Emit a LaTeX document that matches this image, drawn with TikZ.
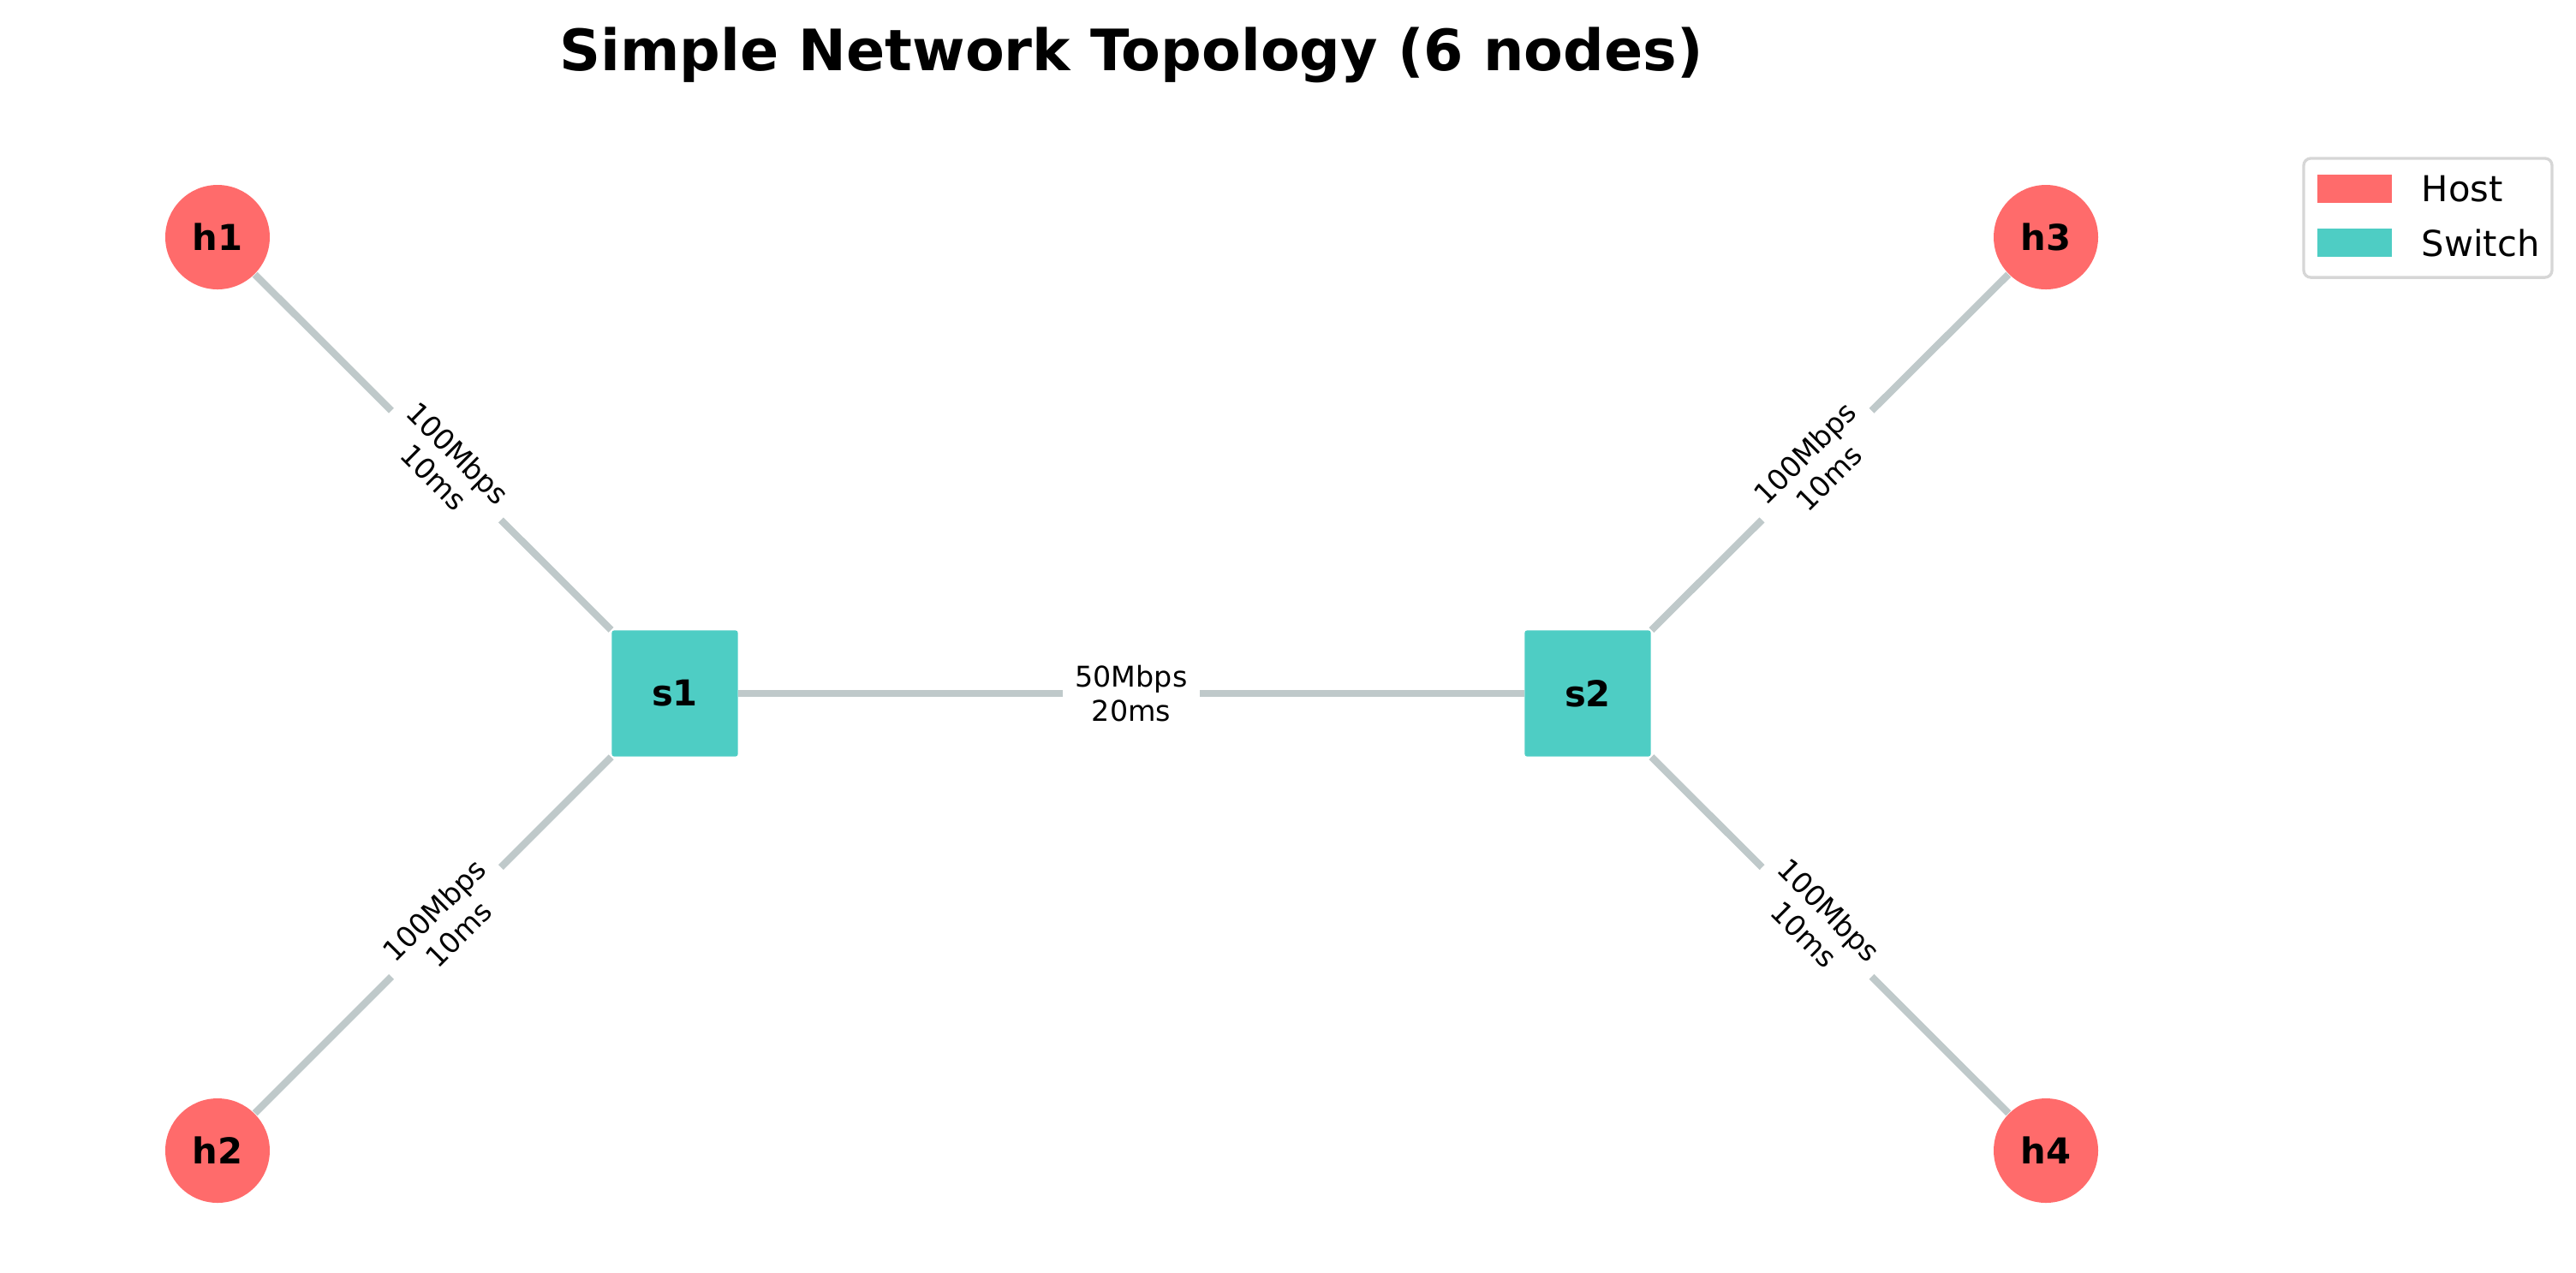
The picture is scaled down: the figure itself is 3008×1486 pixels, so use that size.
\documentclass[tikz,border=0pt]{standalone}
\usepackage{fontspec}
\setmainfont{DejaVu Sans}
\definecolor{hostc}{HTML}{FF6B6B}
\definecolor{switchc}{HTML}{4ECDC4}
\definecolor{edgec}{HTML}{BFC9CA}
\definecolor{legc}{HTML}{D6D6D6}
\begin{document}
\begin{tikzpicture}[x=0.24pt,y=-0.24pt,
  host/.style={circle, fill=hostc, minimum size=29.28pt, inner sep=0pt, font=\fontsize{10}{12}\selectfont\bfseries},
  switch/.style={rectangle, fill=switchc, minimum size=35.3pt, inner sep=0pt, rounded corners=0.6pt, font=\fontsize{10}{12}\selectfont\bfseries},
  link/.style={draw=edgec, line width=2pt},
  elabel/.style={fill=white, font=\fontsize{8}{9.6}\selectfont, align=center, inner xsep=3.4pt, inner ysep=1pt},
  legbox/.style={draw=legc, line width=0.8pt, fill=white, rounded corners=2pt, minimum width=69.6pt, minimum height=33.4pt, inner sep=0pt},
  legpatch/.style={minimum width=20.9pt, minimum height=7.9pt, inner sep=0pt},
  legtext/.style={anchor=west, inner sep=0pt, font=\fontsize{10}{12}\selectfont}]
\useasboundingbox (0,0) rectangle (3008,1486);
% title
\node[font=\fontsize{16}{19}\selectfont\bfseries, anchor=base] (title) at (1321,82) {Simple Network Topology (6 nodes)};
% nodes
\node[host] (h1) at (254,277) {h1};
\node[host] (h2) at (254,1344) {h2};
\node[host] (h3) at (2389,277) {h3};
\node[host] (h4) at (2389,1344) {h4};
\node[switch] (s1) at (788,810) {s1};
\node[switch] (s2) at (1854,810) {s2};
% edges
\draw[link] (h1) -- (s1);
\draw[link] (h2) -- (s1);
\draw[link] (s1) -- (s2);
\draw[link] (s2) -- (h3);
\draw[link] (s2) -- (h4);
% edge labels
\path (h1.center) -- (s1.center) node[midway, sloped, elabel] (l1) {100Mbps\\10ms};
\path (h2.center) -- (s1.center) node[midway, sloped, elabel] (l2) {100Mbps\\10ms};
\path (s1.center) -- (s2.center) node[midway, sloped, elabel] (l3) {50Mbps\\20ms};
\path (s2.center) -- (h3.center) node[midway, sloped, elabel] (l4) {100Mbps\\10ms};
\path (s2.center) -- (h4.center) node[midway, sloped, elabel] (l5) {100Mbps\\10ms};
% legend
\node[legbox] (legend) at (2835,254.5) {};
\node[legpatch, fill=hostc] (lph) at (2749.5,220.5) {};
\node[legpatch, fill=switchc] (lps) at (2749.5,283.5) {};
\node[legtext] (lth) at (2827,220.5) {Host};
\node[legtext] (lts) at (2827,283.5) {Switch};
\end{tikzpicture}
\end{document}
